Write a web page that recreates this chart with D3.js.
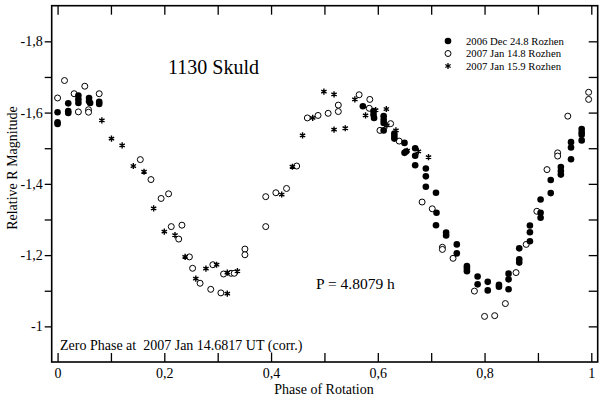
<!DOCTYPE html>
<html>
<head>
<meta charset="utf-8">
<script src="https://d3js.org/d3.v7.min.js"></script>
<style>
    body { margin: 0; background: #fff; }
    svg text { font-family: 'Liberation Serif', 'Times New Roman', serif; fill: #000; }
    .axis path.domain { display: none; }
    .axis line { stroke: #000; stroke-width: 1.3; }
    .axis text { font-size: 14px; }
</style>
</head>
<body>
<div id="chart"></div>
<script>
// phase, relative R magnitude
var dec24 = [
    [0.000,-1.601],[0.000,-1.573],[0.000,-1.568],
    [0.020,-1.626],[0.020,-1.604],[0.020,-1.599],
    [0.039,-1.648],[0.039,-1.637],[0.039,-1.627],
    [0.059,-1.641],[0.059,-1.632],[0.061,-1.627],
    [0.078,-1.630],[0.078,-1.624],
    [0.572,-1.618],
    [0.592,-1.604],[0.592,-1.594],[0.593,-1.585],
    [0.611,-1.590],[0.611,-1.580],[0.611,-1.571],[0.611,-1.550],
    [0.631,-1.541],[0.631,-1.534],[0.631,-1.527],
    [0.650,-1.515],[0.650,-1.487],[0.653,-1.491],
    [0.670,-1.500],[0.670,-1.479],[0.670,-1.452],
    [0.690,-1.443],[0.690,-1.421],[0.690,-1.392],
    [0.709,-1.375],[0.710,-1.319],[0.709,-1.284],
    [0.728,-1.263],[0.728,-1.255],
    [0.748,-1.230],[0.748,-1.205],
    [0.767,-1.169],[0.767,-1.162],[0.767,-1.155],
    [0.787,-1.140],[0.787,-1.118],
    [0.806,-1.125],[0.806,-1.101],
    [0.827,-1.117],[0.827,-1.111],
    [0.845,-1.148],[0.845,-1.132],[0.845,-1.104],
    [0.865,-1.219],[0.865,-1.188],[0.865,-1.179],
    [0.885,-1.283],[0.885,-1.264],[0.885,-1.239],
    [0.905,-1.356],[0.905,-1.319],[0.905,-1.305],
    [0.924,-1.411],[0.924,-1.374],
    [0.943,-1.447],[0.943,-1.436],[0.943,-1.426],
    [0.962,-1.517],[0.962,-1.502],[0.962,-1.469],
    [0.982,-1.554],[0.982,-1.545],[0.982,-1.538],[0.982,-1.522]
];

var jan14 = [
    [0.000,-1.641],[0.013,-1.690],[0.031,-1.653],[0.039,-1.602],[0.051,-1.674],
    [0.058,-1.608],[0.058,-1.601],[0.078,-1.653],
    [0.155,-1.468],[0.175,-1.412],[0.194,-1.359],[0.208,-1.372],[0.213,-1.280],
    [0.233,-1.284],[0.227,-1.245],[0.247,-1.195],[0.253,-1.163],[0.267,-1.121],
    [0.287,-1.104],[0.306,-1.094],[0.291,-1.173],[0.311,-1.147],[0.325,-1.149],
    [0.331,-1.149],[0.351,-1.217],[0.351,-1.201],
    [0.390,-1.280],[0.390,-1.364],[0.409,-1.375],[0.429,-1.387],[0.448,-1.450],
    [0.468,-1.585],[0.488,-1.592],[0.507,-1.598],[0.526,-1.621],[0.526,-1.603],
    [0.565,-1.650],[0.585,-1.637],[0.584,-1.612],[0.604,-1.550],[0.624,-1.569],
    [0.640,-1.520],[0.683,-1.349],[0.702,-1.330],[0.721,-1.222],[0.721,-1.216],
    [0.741,-1.191],[0.781,-1.099],[0.800,-1.028],[0.819,-1.030],[0.839,-1.064],
    [0.859,-1.151],[0.878,-1.230],[0.898,-1.323],[0.917,-1.440],[0.937,-1.487],
    [0.937,-1.478],[0.956,-1.590],[0.995,-1.657],[0.995,-1.637]
];

var jan15 = [
    [0.083,-1.578],[0.101,-1.527],[0.121,-1.508],[0.142,-1.450],[0.162,-1.434],
    [0.180,-1.331],[0.200,-1.266],[0.220,-1.256],[0.239,-1.195],[0.259,-1.134],
    [0.278,-1.162],[0.298,-1.173],[0.318,-1.092],[0.318,-1.151],[0.337,-1.155],
    [0.420,-1.370],[0.440,-1.448],[0.459,-1.536],[0.478,-1.585],[0.499,-1.659],
    [0.518,-1.651],[0.518,-1.552],[0.539,-1.556],[0.557,-1.637],[0.577,-1.592],
    [0.596,-1.607],[0.616,-1.610],[0.617,-1.564],[0.634,-1.550],[0.655,-1.493],
    [0.676,-1.491],[0.695,-1.475]
];

var legendLabels = ["2006 Dec 24.8 Rozhen", "2007 Jan 14.8 Rozhen", "2007 Jan 15.9 Rozhen"];
var xMajor = [0, 0.2, 0.4, 0.6, 0.8, 1];
var xAll = [0, 0.1, 0.2, 0.3, 0.4, 0.5, 0.6, 0.7, 0.8, 0.9, 1];
var yMajor = [-1.8, -1.6, -1.4, -1.2, -1];
var yAll = [-1.8, -1.7, -1.6, -1.5, -1.4, -1.3, -1.2, -1.1, -1];

var width = 600, height = 398;
var box = {left: 51.7, right: 597.7, top: 5.7, bottom: 362};

var x = d3.scaleLinear().domain([-0.011, 1.012]).range([box.left, box.right]);
var y = d3.scaleLinear().domain([-1.9, -0.9]).range([box.top, box.bottom]);

var svg = d3.select("#chart").append("svg")
    .attr("width", width)
    .attr("height", height);

function isIn(list, d) {
    return list.some(function(m) { return Math.abs(m - d) < 1e-9; });
}
function fmt(d) {
    return String(+d.toFixed(1)).replace(".", ",");
}

svg.append("g").attr("class", "axis")
    .attr("transform", "translate(0," + box.bottom + ")")
    .call(d3.axisBottom(x).tickValues(xAll).tickSize(-9).tickPadding(6)
        .tickFormat(function(d) { return isIn(xMajor, d) ? fmt(d) : ""; }));

svg.append("g").attr("class", "axis")
    .attr("transform", "translate(0," + box.top + ")")
    .call(d3.axisTop(x).tickValues(xAll).tickSize(-9).tickFormat(""));

svg.append("g").attr("class", "axis")
    .attr("transform", "translate(" + box.left + ",0)")
    .call(d3.axisLeft(y).tickValues(yAll).tickSize(7).tickPadding(2)
        .tickFormat(function(d) { return isIn(yMajor, d) ? fmt(d) : ""; }));

svg.append("g").attr("class", "axis")
    .attr("transform", "translate(" + box.right + ",0)")
    .call(d3.axisRight(y).tickValues(yAll).tickSize(-9).tickFormat(""));

svg.append("rect")
    .attr("x", box.left).attr("y", box.top)
    .attr("width", box.right - box.left).attr("height", box.bottom - box.top)
    .attr("fill", "none").attr("stroke", "#000").attr("stroke-width", 1.6);

var star = d3.symbol().type(d3.symbolAsterisk).size(26);

// data marks
svg.append("g").selectAll("circle.open").data(jan14).join("circle")
    .attr("class", "open")
    .attr("cx", function(d) { return x(d[0]); })
    .attr("cy", function(d) { return y(d[1]); })
    .attr("r", 3)
    .attr("fill", "#fff").attr("stroke", "#000").attr("stroke-width", 1);

svg.append("g").selectAll("path").data(jan15).join("path")
    .attr("d", star)
    .attr("transform", function(d) { return "translate(" + x(d[0]) + "," + y(d[1]) + ")"; })
    .attr("stroke", "#000").attr("stroke-width", 1.4).attr("fill", "none");

svg.append("g").selectAll("circle.fill").data(dec24).join("circle")
    .attr("class", "fill")
    .attr("cx", function(d) { return x(d[0]); })
    .attr("cy", function(d) { return y(d[1]); })
    .attr("r", 3.3)
    .attr("fill", "#000");

// legend
var lg = svg.append("g").attr("transform", "translate(448,41)");
legendLabels.forEach(function(t, i) {
    var row = lg.append("g").attr("transform", "translate(0," + (i * 12.5) + ")");
    if (i === 0) row.append("circle").attr("r", 3.3).attr("fill", "#000");
    if (i === 1) row.append("circle").attr("r", 3).attr("fill", "#fff").attr("stroke", "#000");
    if (i === 2) row.append("path").attr("d", star).attr("stroke", "#000").attr("stroke-width", 1.3);
    row.append("text").attr("x", 18).attr("y", 3.8)
        .style("font-size", "10.7px").text(t);
});

svg.append("text").attr("x", 168).attr("y", 74)
    .style("font-size", "20px").text("1130 Skuld");

svg.append("text").attr("x", 316).attr("y", 289)
    .style("font-size", "15.5px").text("P = 4.8079 h");

svg.append("text").attr("x", 60).attr("y", 350)
    .style("font-size", "14px").style("white-space", "pre")
    .text("Zero Phase at  2007 Jan 14.6817 UT (corr.)");

svg.append("text").attr("x", 324).attr("y", 394)
    .attr("text-anchor", "middle")
    .style("font-size", "14px").text("Phase of Rotation");

svg.append("text")
    .attr("transform", "translate(17,168) rotate(-90)")
    .attr("text-anchor", "middle")
    .style("font-size", "14px").text("Relative R Magnitude");
</script>
</body>
</html>
